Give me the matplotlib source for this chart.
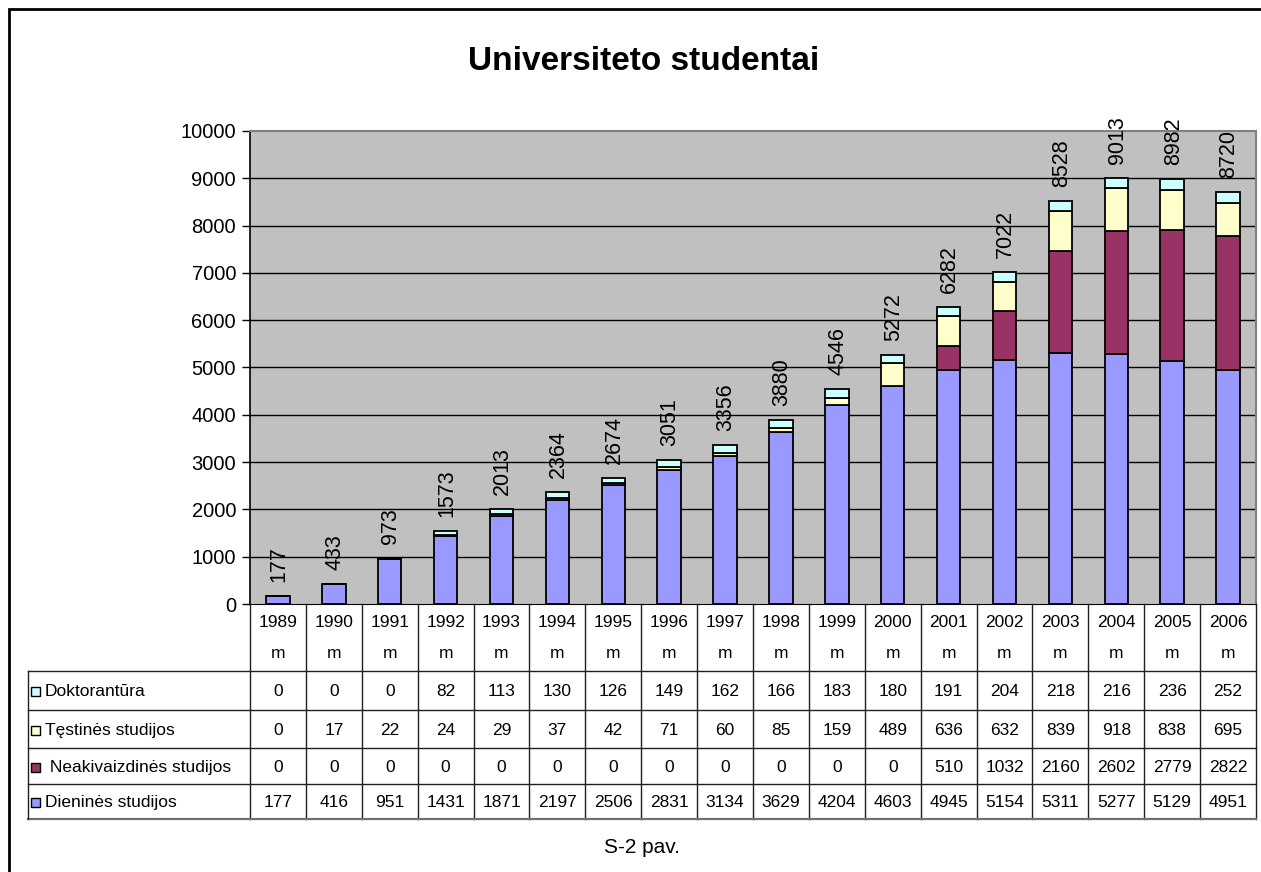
import matplotlib
matplotlib.use("Agg")
import matplotlib.pyplot as plt
import matplotlib.transforms as mtransforms
from matplotlib.lines import Line2D
from matplotlib.patches import Rectangle

plt.rcParams['font.family'] = ['Liberation Sans', 'DejaVu Sans']

# ---------------- data ----------------
years = ["1989", "1990", "1991", "1992", "1993", "1994", "1995", "1996", "1997",
         "1998", "1999", "2000", "2001", "2002", "2003", "2004", "2005", "2006"]
dienines = [177, 416, 951, 1431, 1871, 2197, 2506, 2831, 3134, 3629, 4204, 4603,
            4945, 5154, 5311, 5277, 5129, 4951]
neakivaizdines = [0, 0, 0, 0, 0, 0, 0, 0, 0, 0, 0, 0, 510, 1032, 2160, 2602, 2779, 2822]
testines = [0, 17, 22, 24, 29, 37, 42, 71, 60, 85, 159, 489, 636, 632, 839, 918, 838, 695]
doktorantura = [0, 0, 0, 82, 113, 130, 126, 149, 162, 166, 183, 180, 191, 204, 218,
                216, 236, 252]
total_labels = [177, 433, 973, 1573, 2013, 2364, 2674, 3051, 3356, 3880, 4546, 5272,
                6282, 7022, 8528, 9013, 8982, 8720]

series_names = ["Dieninės studijos", " Neakivaizdinės studijos", "Tęstinės studijos",
                "Doktorantūra"]
series_vals = [dienines, neakivaizdines, testines, doktorantura]
series_colors = ["#9999FF", "#993366", "#FFFFCC", "#CCFFFF"]

# ---------------- figure ----------------
W, H = 1261, 872
fig = plt.figure(figsize=(W / 100, H / 100), dpi=100)
fig.patch.set_facecolor("white")

def fx(px):
    return px / W

def fy(py):
    return 1 - py / H

ax_l, ax_r, ax_t, ax_b = 250, 1256, 131, 604
ax = fig.add_axes([fx(ax_l), fy(ax_b), fx(ax_r) - fx(ax_l), fy(ax_t) - fy(ax_b)])
ax.set_facecolor("#C0C0C0")

n = len(years)
xs = list(range(n))
bottoms = [0] * n
for vals, col in zip(series_vals, series_colors):
    ax.bar(xs, vals, width=0.42, bottom=bottoms, color=col, edgecolor="black",
           linewidth=1.3, zorder=3)
    bottoms = [b + v for b, v in zip(bottoms, vals)]

for i in xs:
    ax.annotate(str(total_labels[i]), xy=(i, bottoms[i]), xytext=(1, 14),
                textcoords="offset pixels", rotation=90, ha="center", va="bottom",
                fontsize=15.5, annotation_clip=False, zorder=5)

ax.set_xlim(-0.5, n - 0.5)
ax.set_ylim(0, 10000)
ax.set_yticks(range(0, 10001, 1000))
ax.tick_params(axis="y", labelsize=14.5, length=6, width=1, direction="out", pad=4)
ax.set_xticks([])
for y in range(1000, 10000, 1000):
    ax.axhline(y, color="black", linewidth=1.0, zorder=1)
ax.spines["left"].set_color("black")
ax.spines["left"].set_linewidth(1.2)
ax.spines["bottom"].set_color("black")
ax.spines["top"].set_color("#808080")
ax.spines["right"].set_color("#808080")
ax.spines["top"].set_linewidth(1.5)
ax.spines["right"].set_linewidth(1.5)

# ---------------- data table ----------------
tr = mtransforms.blended_transform_factory(ax.transData, fig.transFigure)
tab_left = 28
hdr_bottom = 671
row_lines = [671, 710, 748, 784, 819]
row_centers = [(row_lines[k] + row_lines[k + 1]) / 2 for k in range(4)]

lc = "#202020"
# vertical lines at column boundaries
for k in range(n + 1):
    xb = -0.5 + k
    fig.add_artist(Line2D([xb, xb], [fy(ax_b), fy(row_lines[-1])], transform=tr,
                          color=lc, linewidth=1.0))
# horizontal lines
for j, py in enumerate(row_lines):
    col = "#707070" if j == len(row_lines) - 1 else lc
    lw = 1.6 if j == len(row_lines) - 1 else 1.0
    fig.add_artist(Line2D([fx(tab_left), fx(ax_r)], [fy(py), fy(py)],
                          transform=fig.transFigure, color=col, linewidth=lw))
fig.add_artist(Line2D([fx(tab_left), fx(tab_left)], [fy(row_lines[0]), fy(row_lines[-1])],
                      transform=fig.transFigure, color=lc, linewidth=1.0))

# header (years)
for i in xs:
    fig.text(i, fy(622), years[i], transform=tr, ha="center", va="center", fontsize=12.5)
    fig.text(i, fy(653), "m", transform=tr, ha="center", va="center", fontsize=12.5)

# rows: top to bottom
table_rows = [(series_names[3], doktorantura, series_colors[3]),
              (series_names[2], testines, series_colors[2]),
              (series_names[1], neakivaizdines, series_colors[1]),
              (series_names[0], dienines, series_colors[0])]
for (name, vals, col), cy in zip(table_rows, row_centers):
    sw = 9
    fig.add_artist(Rectangle((fx(31), fy(cy + sw / 2 + 1)), fx(sw), sw / H,
                             transform=fig.transFigure, facecolor=col,
                             edgecolor="black", linewidth=1.0))
    fig.text(fx(45), fy(cy + 1), name, ha="left", va="center", fontsize=12.5)
    for i in xs:
        fig.text(i, fy(cy + 1), str(vals[i]), transform=tr, ha="center", va="center",
                 fontsize=12.5)

# ---------------- titles & border ----------------
fig.text(fx(644), fy(62), "Universiteto studentai", ha="center", va="center",
         fontsize=24, fontweight="bold")
fig.text(fx(642), fy(847), "S-2 pav.", ha="center", va="center", fontsize=15)
fig.add_artist(Rectangle((fx(9), fy(880)), fx(1270), 871 / H, transform=fig.transFigure,
                         facecolor="none", edgecolor="black", linewidth=2.0))

fig.savefig("out.png", dpi=100)
